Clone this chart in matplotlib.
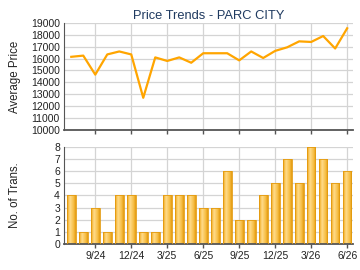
import matplotlib.pyplot as plt
import matplotlib
from matplotlib.colors import LinearSegmentedColormap
import numpy as np

matplotlib.rcParams['font.family'] = 'Liberation Sans'
fontsize = 7.5
matplotlib.rcParams['font.size'] = fontsize

title = 'Price Trends - PARC CITY'

# monthly data, 7/24 .. 6/26
price = [16150, 16250, 14650, 16350, 16600, 16350, 12700, 16100, 15800, 16100,
         15650, 16450, 16450, 16450, 15850, 16600, 16050, 16650, 16950, 17450,
         17400, 17900, 16850, 18550]
trans = [4, 1, 3, 1, 4, 4, 1, 1, 4, 4, 4, 3, 3, 6, 2, 2, 4, 5, 7, 5, 8, 7, 5, 6]
tick_pos = [2, 5, 8, 11, 14, 17, 20, 23]
tick_labels = ['9/24', '12/24', '3/25', '6/25', '9/25', '12/25', '3/26', '6/26']

x = list(range(len(price)))

fig = plt.figure(figsize=(3.6, 2.7), dpi=100)
ax1 = fig.add_axes([0.178, 0.519, 0.803, 0.396])
ax2 = fig.add_axes([0.178, 0.096, 0.803, 0.360])

grid_col = '#d4d4d4'
spine_col = '#555555'

for ax in (ax1, ax2):
    ax.set_xlim(-0.6, 23.5)
    ax.set_xticks(tick_pos)
    ax.grid(True, color=grid_col, linewidth=0.9)
    ax.set_axisbelow(True)
    for s in ['top', 'right']:
        ax.spines[s].set_visible(False)
    ax.spines['left'].set_color(spine_col)
    ax.spines['bottom'].set_color(spine_col)
    ax.spines['bottom'].set_linewidth(1.3)
    ax.tick_params(axis='y', length=0, pad=3, labelsize=fontsize, labelcolor='#222222')
    ax.tick_params(axis='x', length=3, width=1, color=spine_col, pad=2,
                   labelsize=fontsize, labelcolor='#222222')
    ax.yaxis.set_label_coords(-0.15, 0.5)

ax1.plot(x, price, color='#FFA500', linewidth=1.6)
ax1.set_ylim(10000, 19000)
ax1.set_yticks(range(10000, 19001, 1000))
ax1.set_xticklabels([])
ax1.set_ylabel('Average Price', fontsize=8.3, color='#222222')
ax1.set_title(title, fontsize=9.3, color='#1f3a60', pad=3)

bar_cmap = LinearSegmentedColormap.from_list(
    'barg', [(0, '#EFA414'), (0.35, '#FFDB8A'), (0.75, '#F7BE45'), (1, '#E39A0E')])
grad = np.linspace(0, 1, 64).reshape(1, -1)
bars = ax2.bar(x, trans, width=0.72, color='none', edgecolor='#E39A0E', linewidth=0.6, zorder=3)
for b in bars:
    x0, w, h = b.get_x(), b.get_width(), b.get_height()
    im = ax2.imshow(grad, cmap=bar_cmap, extent=[x0, x0 + w, 0, h], aspect='auto', zorder=2)
    im.set_clip_path(b)
ax2.set_xlim(-0.6, 23.5)
ax2.set_ylim(0, 8)
ax2.set_yticks(range(0, 9))
ax2.set_xticklabels(tick_labels)
ax2.set_ylabel('No. of Trans.', fontsize=8.3, color='#222222')

fig.savefig('out.png', dpi=100)
